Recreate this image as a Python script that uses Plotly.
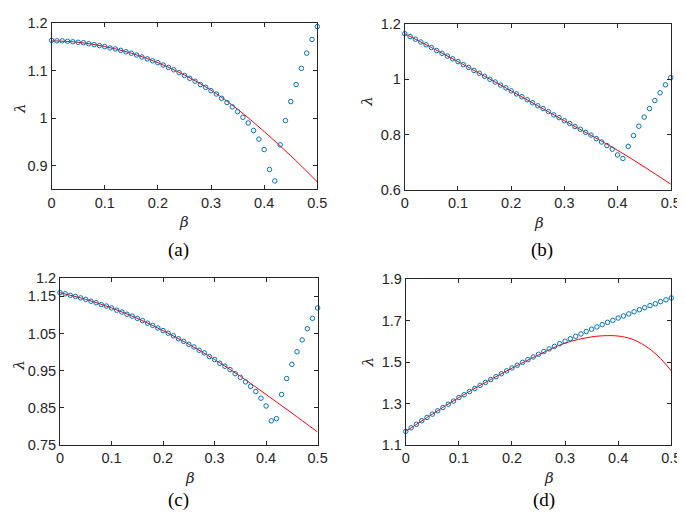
import plotly.graph_objects as go

W, H = 685, 517

# beta grid for markers (0 to 0.5 step 0.01)
beta_pts = [round(i * 0.01, 2) for i in range(51)]

# ---- Panel (a) ----
a_markers = [1.164, 1.163, 1.163, 1.162, 1.161, 1.160, 1.159, 1.157, 1.155, 1.153,
             1.151, 1.148, 1.146, 1.143, 1.140, 1.137, 1.133, 1.129, 1.125, 1.121,
             1.117, 1.112, 1.107, 1.102, 1.096, 1.090, 1.084, 1.078, 1.071, 1.065,
             1.058, 1.051, 1.042, 1.033, 1.024, 1.014, 1.002, 0.990, 0.974, 0.956,
             0.934, 0.892, 0.868, 0.944, 0.995, 1.035, 1.071, 1.105, 1.137, 1.166,
             1.193]
a_line_beta = [0, 0.05, 0.1, 0.15, 0.2, 0.25, 0.3, 0.35, 0.4, 0.45, 0.5]
a_line = [1.163, 1.160, 1.151, 1.137, 1.117, 1.091, 1.059, 1.019, 0.972, 0.921, 0.866]

# ---- Panel (b) ----
b_markers = [1.165, 1.155, 1.145, 1.135, 1.125, 1.115, 1.104, 1.094, 1.084, 1.074,
             1.064, 1.053, 1.043, 1.032, 1.022, 1.011, 1.000, 0.990, 0.979, 0.969,
             0.958, 0.947, 0.937, 0.926, 0.915, 0.904, 0.894, 0.883, 0.871, 0.861,
             0.850, 0.840, 0.829, 0.819, 0.808, 0.798, 0.785, 0.773, 0.760, 0.747,
             0.726, 0.713, 0.757, 0.796, 0.830, 0.863, 0.894, 0.923, 0.951, 0.980,
             1.006]
b_line_beta = [0, 0.05, 0.1, 0.15, 0.2, 0.25, 0.3, 0.35, 0.4, 0.45, 0.5]
b_line = [1.165, 1.115, 1.064, 1.011, 0.958, 0.904, 0.850, 0.797, 0.743, 0.683, 0.620]

# ---- Panel (c) ----
c_markers = [1.160, 1.157, 1.153, 1.150, 1.146, 1.142, 1.137, 1.133, 1.128, 1.124,
             1.119, 1.113, 1.108, 1.102, 1.097, 1.091, 1.085, 1.078, 1.072, 1.065,
             1.058, 1.051, 1.044, 1.036, 1.029, 1.021, 1.014, 1.005, 0.998, 0.988,
             0.980, 0.970, 0.962, 0.953, 0.942, 0.932, 0.920, 0.908, 0.894, 0.876,
             0.855, 0.815, 0.821, 0.886, 0.929, 0.967, 1.001, 1.033, 1.063, 1.091,
             1.119]
c_line_beta = [0, 0.05, 0.1, 0.15, 0.2, 0.25, 0.3, 0.35, 0.4, 0.45, 0.5]
c_line = [1.160, 1.142, 1.119, 1.091, 1.058, 1.021, 0.980, 0.935, 0.886, 0.836, 0.785]

# ---- Panel (d) ----
d_markers = [1.166, 1.183, 1.200, 1.217, 1.233, 1.249, 1.265, 1.281, 1.297, 1.312,
             1.329, 1.343, 1.358, 1.373, 1.388, 1.402, 1.416, 1.430, 1.444, 1.458,
             1.472, 1.485, 1.499, 1.512, 1.525, 1.538, 1.551, 1.564, 1.576, 1.589,
             1.601, 1.613, 1.625, 1.636, 1.648, 1.659, 1.670, 1.681, 1.692, 1.702,
             1.713, 1.723, 1.733, 1.743, 1.753, 1.763, 1.773, 1.782, 1.792, 1.801,
             1.810]
d_line_beta = [0, 0.05, 0.1, 0.15, 0.2, 0.25, 0.3, 0.35, 0.38, 0.4, 0.425, 0.45, 0.475, 0.5]
d_line = [1.166, 1.249, 1.329, 1.402, 1.471, 1.535, 1.592, 1.622, 1.628, 1.626, 1.612, 1.580, 1.530, 1.458]

x_ticks = [0, 0.1, 0.2, 0.3, 0.4, 0.5]
x_ticktext = ["0", "0.1", "0.2", "0.3", "0.4", "0.5"]

panels = [
    dict(name="(a)", mk=a_markers, lb=a_line_beta, ln=a_line,
         yr=[0.85, 1.2], yt=[0.9, 1.0, 1.1, 1.2], ytt=["0.9", "1", "1.1", "1.2"],
         px=(40.4, 311.7), py=(7.5, 179.0),
         beta_lbl=(176, 213), lam_lbl=(8, 95), cap=(170, 241)),
    dict(name="(b)", mk=b_markers, lb=b_line_beta, ln=b_line,
         yr=[0.6, 1.2], yt=[0.6, 0.8, 1.0, 1.2], ytt=["0.6", "0.8", "1", "1.2"],
         px=(401.0, 672.5), py=(8.3, 179.3),
         beta_lbl=(538, 214), lam_lbl=(363, 88), cap=(541, 241)),
    dict(name="(c)", mk=c_markers, lb=c_line_beta, ln=c_line,
         yr=[0.75, 1.2], yt=[0.75, 0.85, 0.95, 1.05, 1.15, 1.2],
         ytt=["0.75", "0.85", "0.95", "1.05", "1.15", "1.2"],
         px=(49.0, 312.0), py=(270.2, 442.7),
         beta_lbl=(182, 477), lam_lbl=(7, 360), cap=(170, 499)),
    dict(name="(d)", mk=d_markers, lb=d_line_beta, ln=d_line,
         yr=[1.1, 1.9], yt=[1.1, 1.3, 1.5, 1.7, 1.9], ytt=["1.1", "1.3", "1.5", "1.7", "1.9"],
         px=(402.0, 673.0), py=(271.7, 442.7),
         beta_lbl=(548, 477), lam_lbl=(363, 357), cap=(543, 499)),
]

AX = "#262626"
fig = go.Figure()
annotations = []
for i, p in enumerate(panels):
    k = "" if i == 0 else str(i + 1)
    xa, ya = "x" + k, "y" + k
    fig.add_trace(go.Scatter(x=p["lb"], y=p["ln"], mode="lines", line_shape="spline",
                             line=dict(color="#ff0000", width=1), xaxis=xa, yaxis=ya,
                             showlegend=False, cliponaxis=False, hoverinfo="skip"))
    fig.add_trace(go.Scatter(x=beta_pts, y=p["mk"], mode="markers",
                             marker=dict(symbol="circle-open", size=4.5, color="#0072BD",
                                         line=dict(width=1, color="#0072BD")),
                             xaxis=xa, yaxis=ya, showlegend=False, cliponaxis=False))
    common = dict(showline=True, linecolor=AX, linewidth=1, mirror="ticks",
                  ticks="inside", ticklen=4, tickcolor=AX, tickwidth=1,
                  showgrid=False, zeroline=False,
                  tickfont=dict(family="Liberation Sans, Arial, sans-serif", size=14.5, color=AX))
    fig.layout["xaxis" + k] = dict(domain=[p["px"][0] / W, p["px"][1] / W],
                                   range=[0, 0.5], tickvals=x_ticks, ticktext=x_ticktext,
                                   anchor=ya, **common)
    fig.layout["yaxis" + k] = dict(domain=[1 - p["py"][1] / H, 1 - p["py"][0] / H],
                                   range=p["yr"], tickvals=p["yt"], ticktext=p["ytt"],
                                   anchor=xa, **common)
    annotations.append(dict(text="<i>β</i>", x=p["beta_lbl"][0] / W, y=1 - p["beta_lbl"][1] / H,
                            xref="paper", yref="paper", showarrow=False,
                            xanchor="center", yanchor="middle",
                            font=dict(family="DejaVu Serif, serif", size=15, color=AX)))
    annotations.append(dict(text="<i>λ</i>", x=p["lam_lbl"][0] / W, y=1 - p["lam_lbl"][1] / H,
                            xref="paper", yref="paper", showarrow=False, textangle=-90,
                            xanchor="center", yanchor="middle",
                            font=dict(family="DejaVu Serif, serif", size=15, color=AX)))
    annotations.append(dict(text=p["name"], x=p["cap"][0] / W, y=1 - p["cap"][1] / H,
                            xref="paper", yref="paper", showarrow=False,
                            xanchor="center", yanchor="middle",
                            font=dict(family="Liberation Serif, Times New Roman, serif", size=19, color="#000000")))

fig.update_layout(width=W, height=H, margin=dict(l=0, r=0, t=0, b=0),
                  paper_bgcolor="white", plot_bgcolor="white",
                  annotations=annotations)
fig.write_html("out.html")
